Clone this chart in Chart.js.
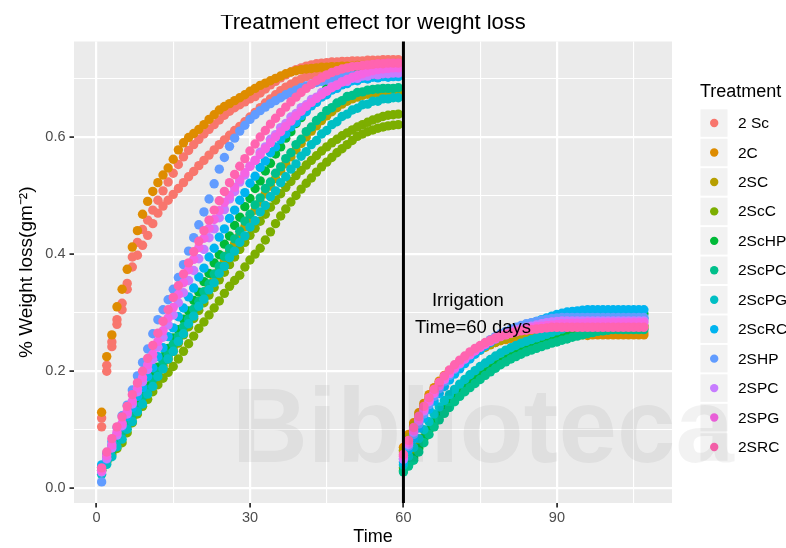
<!DOCTYPE html>
<html><head><meta charset="utf-8">
<script src="https://cdn.jsdelivr.net/npm/chart.js@4.4.1/dist/chart.umd.min.js"></script>
<style>html,body{margin:0;padding:0;background:#fff;}canvas{display:block;}</style>
</head><body>
<canvas id="c" width="786" height="548"></canvas>
<script>
// ---------- DATA ----------
const treatments = ['2 Sc','2C','2SC','2ScC','2ScHP','2ScPC','2ScPG','2ScRC','2SHP','2SPC','2SPG','2SRC'];
const colors = ['#F8766D','#DE8C00','#B79F00','#7CAE00','#00BA38','#00C08B','#00BFC4','#00B4F0','#619CFF','#C77CFF','#F564E3','#FF64B0'];

const preDays = [1,2,3,4,5,6,7,8,9,10,11,12,13,14,15,16,17,18,19,20,21,22,23,24,25,26,27,28,29,30,
  31,32,33,34,35,36,37,38,39,40,41,42,43,44,45,46,47,48,49,50,51,52,53,54,55,56,57,58,59];
const postDays = [60,61,62,63,64,65,66,67,68,69,70,71,72,73,74,75,76,77,78,79,80,81,82,83,84,85,86,87,88,89,
  90,91,92,93,94,95,96,97,98,99,100,101,102,103,104,105,106,107];

const xTicks = [0,15,30,45,60,75,90,105];
const xMajor = [0,30,60,90];
const yTicks = [0,0.1,0.2,0.3,0.4,0.5,0.6,0.7];
const yMajor = [0,0.2,0.4,0.6];

const irrigationDay = 60;
const noteLines = ['Irrigation','Time=60 days'];
const noteX = [72.6, 73.6];
const noteY = [0.311, 0.265];

// before irrigation (two replicate tracks visible for 2 Sc and 2ScC)
const pre2Sc_a = [0.105,0.200,0.242,0.288,0.316,0.350,0.395,0.420,0.442,0.458,
 0.475,0.492,0.508,0.523,0.538,0.553,0.566,0.577,0.587,0.596,
 0.605,0.613,0.621,0.629,0.637,0.644,0.650,0.655,0.660,0.665,
 0.669,0.675,0.682,0.689,0.695,0.701,0.706,0.711,0.715,0.718,
 0.721,0.723,0.725,0.726,0.727,0.728,0.728,0.729,0.729,0.730,
 0.730,0.730,0.731,0.731,0.731,0.732,0.732,0.732,0.732];
const pre2Sc_b = [0.120,0.210,0.250,0.280,0.305,0.340,0.378,0.398,0.415,0.432,
 0.452,0.470,0.482,0.492,0.502,0.512,0.522,0.532,0.541,0.551,
 0.560,0.569,0.578,0.587,0.595,0.603,0.611,0.618,0.626,0.634,
 0.642,0.650,0.658,0.665,0.672,0.679,0.685,0.690,0.695,0.699,
 0.703,0.706,0.709,0.712,0.714,0.716,0.718,0.720,0.721,0.722,
 0.723,0.724,0.725,0.725,0.726,0.726,0.726,0.727,0.727];
const pre2C = [0.130,0.225,0.262,0.310,0.340,0.374,0.412,0.440,0.468,0.490,
 0.507,0.522,0.535,0.547,0.562,0.578,0.590,0.599,0.606,0.613,
 0.621,0.630,0.638,0.646,0.652,0.657,0.662,0.667,0.672,0.678,
 0.683,0.688,0.692,0.696,0.700,0.704,0.708,0.711,0.713,0.715,
 0.716,0.717,0.718,0.719,0.719,0.720,0.720,0.721,0.721,0.721,
 0.722,0.722,0.722,0.722,0.723,0.723,0.723,0.723,0.723];
const pre2SC = [0.033,0.047,0.062,0.077,0.091,0.106,0.121,0.136,0.151,0.165,
 0.180,0.195,0.210,0.225,0.240,0.254,0.269,0.284,0.299,0.314,
 0.329,0.344,0.358,0.373,0.388,0.403,0.418,0.432,0.447,0.461,
 0.475,0.489,0.503,0.516,0.529,0.542,0.554,0.566,0.578,0.589,
 0.600,0.610,0.619,0.628,0.636,0.643,0.650,0.656,0.661,0.665,
 0.668,0.671,0.673,0.674,0.675,0.676,0.676,0.677,0.677];
const pre2ScC_a = [0.030,0.045,0.058,0.068,0.078,0.095,0.112,0.127,0.140,0.152,
 0.165,0.177,0.188,0.198,0.208,0.221,0.234,0.247,0.260,0.273,
 0.284,0.296,0.308,0.320,0.333,0.345,0.355,0.364,0.378,0.390,
 0.400,0.410,0.424,0.438,0.452,0.465,0.477,0.489,0.500,0.511,
 0.521,0.530,0.540,0.549,0.557,0.565,0.573,0.580,0.587,0.594,
 0.601,0.605,0.609,0.612,0.615,0.617,0.619,0.620,0.621];
const pre2ScC_b = [0.035,0.052,0.066,0.080,0.094,0.108,0.122,0.136,0.150,0.164,
 0.178,0.192,0.206,0.220,0.234,0.248,0.262,0.276,0.290,0.304,
 0.317,0.330,0.343,0.356,0.369,0.382,0.395,0.408,0.420,0.432,
 0.444,0.456,0.468,0.480,0.492,0.503,0.514,0.524,0.534,0.543,
 0.552,0.560,0.568,0.576,0.583,0.590,0.596,0.602,0.607,0.612,
 0.617,0.621,0.625,0.629,0.632,0.635,0.637,0.638,0.639];
const pre2ScHP = [0.031,0.047,0.065,0.079,0.097,0.111,0.129,0.143,0.161,0.175,
 0.193,0.207,0.225,0.239,0.257,0.271,0.289,0.303,0.321,0.335,
 0.353,0.367,0.385,0.399,0.417,0.431,0.449,0.463,0.481,0.495,
 0.512,0.525,0.542,0.555,0.571,0.583,0.598,0.609,0.623,0.633,
 0.646,0.655,0.666,0.673,0.683,0.688,0.696,0.699,0.705,0.706,
 0.710,0.710,0.713,0.713,0.714,0.714,0.715,0.715,0.715];
const pre2ScPC = [0.036,0.049,0.066,0.079,0.096,0.109,0.126,0.139,0.156,0.169,
 0.186,0.199,0.216,0.229,0.246,0.259,0.276,0.289,0.306,0.319,
 0.336,0.349,0.366,0.379,0.396,0.409,0.426,0.439,0.456,0.468,
 0.484,0.496,0.512,0.523,0.538,0.549,0.563,0.573,0.587,0.596,
 0.609,0.617,0.628,0.635,0.645,0.650,0.658,0.662,0.669,0.671,
 0.676,0.677,0.680,0.681,0.682,0.683,0.683,0.683,0.684];
const pre2ScPG = [0.024,0.041,0.054,0.071,0.084,0.101,0.114,0.131,0.144,0.161,
 0.174,0.191,0.204,0.221,0.234,0.251,0.264,0.281,0.294,0.311,
 0.323,0.339,0.351,0.367,0.379,0.394,0.405,0.420,0.431,0.446,
 0.457,0.472,0.483,0.498,0.508,0.522,0.532,0.545,0.554,0.567,
 0.575,0.587,0.594,0.605,0.611,0.621,0.626,0.635,0.639,0.646,
 0.649,0.655,0.656,0.661,0.661,0.665,0.665,0.667,0.667];
const pre2ScRC = [0.040,0.059,0.073,0.091,0.105,0.123,0.138,0.157,0.172,0.191,
 0.206,0.225,0.240,0.259,0.274,0.293,0.308,0.327,0.342,0.361,
 0.376,0.395,0.410,0.429,0.443,0.461,0.475,0.492,0.505,0.521,
 0.533,0.548,0.559,0.573,0.583,0.596,0.605,0.617,0.625,0.636,
 0.643,0.653,0.659,0.668,0.672,0.680,0.683,0.689,0.691,0.696,
 0.696,0.700,0.699,0.702,0.701,0.703,0.702,0.703,0.703];
const pre2SHP = [0.011,0.050,0.080,0.104,0.124,0.142,0.168,0.192,0.215,0.238,
 0.264,0.288,0.305,0.322,0.340,0.360,0.382,0.405,0.428,0.450,
 0.472,0.494,0.520,0.545,0.565,0.584,0.598,0.610,0.620,0.630,
 0.638,0.645,0.651,0.657,0.662,0.667,0.672,0.676,0.680,0.684,
 0.687,0.690,0.693,0.695,0.697,0.699,0.701,0.703,0.704,0.705,
 0.706,0.707,0.708,0.709,0.710,0.710,0.711,0.711,0.712];
const pre2SPC = [0.028,0.051,0.069,0.091,0.107,0.127,0.144,0.165,0.182,0.203,
 0.220,0.241,0.258,0.279,0.296,0.317,0.334,0.355,0.372,0.392,
 0.408,0.428,0.443,0.462,0.476,0.494,0.507,0.523,0.535,0.550,
 0.560,0.574,0.583,0.596,0.604,0.616,0.623,0.634,0.640,0.650,
 0.655,0.664,0.668,0.676,0.679,0.686,0.688,0.694,0.695,0.700,
 0.700,0.704,0.704,0.707,0.706,0.708,0.708,0.709,0.709];
const pre2SPG = [0.030,0.056,0.074,0.096,0.111,0.131,0.149,0.171,0.189,0.211,
 0.229,0.251,0.269,0.291,0.309,0.331,0.351,0.373,0.391,0.411,
 0.427,0.444,0.459,0.474,0.488,0.500,0.514,0.527,0.539,0.550,
 0.560,0.570,0.580,0.590,0.600,0.609,0.618,0.627,0.636,0.644,
 0.652,0.659,0.666,0.672,0.678,0.684,0.689,0.694,0.698,0.702,
 0.705,0.708,0.711,0.713,0.715,0.716,0.717,0.718,0.718];
const pre2SRC = [0.035,0.062,0.085,0.105,0.122,0.140,0.160,0.180,0.200,0.222,
 0.244,0.265,0.285,0.305,0.326,0.346,0.366,0.385,0.404,0.422,
 0.440,0.458,0.475,0.491,0.507,0.522,0.536,0.550,0.563,0.576,
 0.588,0.600,0.611,0.622,0.632,0.642,0.651,0.660,0.668,0.676,
 0.683,0.690,0.696,0.701,0.706,0.710,0.713,0.716,0.718,0.720,
 0.721,0.722,0.723,0.724,0.725,0.725,0.726,0.726,0.726];

// after irrigation
const post2Sc = [0.062,0.085,0.106,0.124,0.140,0.155,0.168,0.180,0.190,0.199,
 0.207,0.215,0.222,0.228,0.234,0.239,0.244,0.248,0.252,0.255,
 0.258,0.260,0.262,0.263,0.264,0.265,0.266,0.266,0.266,0.266,
 0.266,0.266,0.266,0.265,0.266,0.266,0.266,0.266,0.266,0.266,
 0.266,0.266,0.265,0.266,0.266,0.266,0.266,0.266];
const post2C = [0.070,0.092,0.112,0.129,0.145,0.160,0.172,0.183,0.193,0.201,
 0.209,0.216,0.222,0.228,0.233,0.238,0.242,0.246,0.249,0.252,
 0.254,0.256,0.258,0.259,0.260,0.261,0.262,0.262,0.262,0.262,
 0.262,0.262,0.262,0.262,0.262,0.262,0.261,0.262,0.262,0.262,
 0.262,0.262,0.262,0.262,0.262,0.262,0.262,0.262];
const post2SC = [0.065,0.087,0.107,0.124,0.140,0.154,0.167,0.178,0.188,0.197,
 0.205,0.212,0.219,0.225,0.231,0.236,0.241,0.245,0.249,0.253,
 0.256,0.259,0.262,0.264,0.266,0.268,0.270,0.271,0.272,0.273,
 0.274,0.274,0.274,0.274,0.274,0.274,0.274,0.274,0.274,0.274,
 0.274,0.274,0.274,0.274,0.274,0.274,0.274,0.274];
const post2ScC = [0.035,0.045,0.058,0.072,0.087,0.100,0.112,0.124,0.135,0.145,
 0.154,0.163,0.171,0.179,0.186,0.193,0.199,0.205,0.211,0.216,
 0.221,0.226,0.230,0.234,0.238,0.242,0.246,0.249,0.252,0.255,
 0.258,0.261,0.264,0.267,0.269,0.271,0.273,0.275,0.276,0.277,
 0.278,0.278,0.278,0.278,0.278,0.278,0.278,0.278];
const post2ScHP = [0.030,0.040,0.052,0.068,0.085,0.100,0.113,0.125,0.136,0.146,
 0.155,0.163,0.171,0.178,0.185,0.192,0.198,0.204,0.210,0.215,
 0.220,0.225,0.229,0.233,0.237,0.241,0.245,0.249,0.253,0.257,
 0.261,0.265,0.269,0.273,0.277,0.281,0.285,0.288,0.291,0.293,
 0.295,0.296,0.297,0.298,0.298,0.298,0.298,0.298];
const post2ScPC = [0.028,0.038,0.048,0.062,0.078,0.092,0.105,0.117,0.128,0.138,
 0.148,0.157,0.165,0.172,0.179,0.186,0.193,0.199,0.205,0.211,
 0.216,0.221,0.225,0.229,0.233,0.236,0.239,0.242,0.245,0.248,
 0.250,0.253,0.255,0.258,0.260,0.262,0.264,0.266,0.268,0.269,
 0.270,0.271,0.271,0.271,0.271,0.271,0.271,0.271];
const post2ScPG = [0.040,0.055,0.070,0.085,0.100,0.114,0.127,0.139,0.150,0.160,
 0.169,0.178,0.186,0.194,0.201,0.208,0.214,0.220,0.226,0.231,
 0.236,0.240,0.244,0.248,0.251,0.254,0.257,0.260,0.263,0.266,
 0.269,0.272,0.275,0.278,0.280,0.282,0.284,0.286,0.287,0.288,
 0.289,0.290,0.290,0.290,0.290,0.290,0.290,0.290];
const post2ScRC = [0.045,0.066,0.085,0.103,0.120,0.135,0.149,0.162,0.174,0.185,
 0.195,0.204,0.213,0.221,0.229,0.236,0.243,0.249,0.255,0.260,
 0.265,0.269,0.273,0.276,0.279,0.282,0.285,0.288,0.291,0.294,
 0.297,0.299,0.301,0.302,0.303,0.304,0.305,0.305,0.305,0.305,
 0.305,0.305,0.305,0.305,0.305,0.305,0.305,0.305];
const post2SHP = [0.050,0.072,0.092,0.110,0.127,0.143,0.157,0.170,0.182,0.193,
 0.203,0.212,0.220,0.228,0.235,0.242,0.248,0.254,0.259,0.264,
 0.268,0.272,0.275,0.278,0.281,0.283,0.285,0.287,0.289,0.290,
 0.291,0.292,0.292,0.292,0.292,0.292,0.292,0.292,0.292,0.292,
 0.292,0.292,0.292,0.292,0.292,0.292,0.292,0.292];
const post2SPC = [0.050,0.075,0.096,0.115,0.132,0.148,0.162,0.175,0.186,0.196,
 0.205,0.213,0.221,0.228,0.235,0.241,0.247,0.252,0.257,0.261,
 0.265,0.268,0.271,0.273,0.275,0.277,0.279,0.281,0.283,0.284,
 0.285,0.286,0.286,0.286,0.286,0.286,0.286,0.286,0.286,0.286,
 0.286,0.286,0.286,0.286,0.286,0.286,0.286,0.286];
const post2SPG = [0.055,0.078,0.099,0.118,0.135,0.150,0.164,0.176,0.187,0.197,
 0.206,0.214,0.222,0.229,0.235,0.241,0.246,0.251,0.255,0.259,
 0.262,0.265,0.268,0.270,0.272,0.274,0.276,0.277,0.278,0.279,
 0.280,0.281,0.281,0.282,0.282,0.282,0.283,0.283,0.283,0.283,
 0.283,0.283,0.283,0.283,0.283,0.283,0.283,0.283];
const post2SRC = [0.058,0.082,0.104,0.123,0.140,0.155,0.169,0.181,0.192,0.202,
 0.211,0.219,0.226,0.233,0.239,0.244,0.249,0.253,0.257,0.260,
 0.263,0.265,0.267,0.269,0.270,0.271,0.272,0.273,0.274,0.275,
 0.275,0.275,0.275,0.275,0.275,0.275,0.275,0.275,0.275,0.275,
 0.275,0.275,0.275,0.275,0.275,0.275,0.275,0.275];

const preTracks = [[pre2Sc_a,pre2Sc_b],[pre2C],[pre2SC],[pre2ScC_a,pre2ScC_b],[pre2ScHP],[pre2ScPC],
  [pre2ScPG],[pre2ScRC],[pre2SHP],[pre2SPC],[pre2SPG],[pre2SRC]];
const postTracks = [post2Sc,post2C,post2SC,post2ScC,post2ScHP,post2ScPC,post2ScPG,post2ScRC,post2SHP,post2SPC,post2SPG,post2SRC];

// ---------- CHART ----------
const FONT = '"Liberation Sans", Arial, Helvetica, sans-serif';
const near = (arr, v) => arr.some(a => Math.abs(a - v) < 1e-6);

const datasets = treatments.map((name, i) => {
  const pts = [];
  preTracks[i].forEach(tr => tr.forEach((y, k) => pts.push({x: preDays[k], y})));
  postTracks[i].forEach((y, k) => pts.push({x: postDays[k], y}));
  return {
    label: name, data: pts, showLine: false,
    pointRadius: 4.7, pointHoverRadius: 4.7, pointBorderWidth: 0,
    pointBackgroundColor: colors[i], pointBorderColor: colors[i],
    backgroundColor: colors[i], borderColor: colors[i],
    order: treatments.length - i
  };
});

const panelBg = {
  id: 'panelBg',
  beforeDraw(chart) {
    const {ctx, chartArea: a} = chart;
    ctx.save();
    ctx.fillStyle = '#EBEBEB';
    ctx.fillRect(a.left, a.top, a.right - a.left, a.bottom - a.top);
    ctx.restore();
  }
};

const extras = {
  id: 'extras',
  afterDatasetsDraw(chart) {
    const {ctx, chartArea: a, scales: {x, y}} = chart;
    ctx.save();
    const xp = x.getPixelForValue(irrigationDay);
    ctx.strokeStyle = '#000';
    ctx.lineWidth = 3;
    ctx.beginPath(); ctx.moveTo(xp, a.top); ctx.lineTo(xp, a.bottom); ctx.stroke();
    ctx.fillStyle = '#000';
    ctx.font = '18.5px ' + FONT;
    ctx.textAlign = 'center';
    ctx.textBaseline = 'alphabetic';
    noteLines.forEach((t, i) => ctx.fillText(t, x.getPixelForValue(noteX[i]), y.getPixelForValue(noteY[i])));
    ctx.restore();
  },
  afterDraw(chart) {
    const {ctx, chartArea: a} = chart;
    ctx.save();
    // title (top of the glyphs is cut off in the reference)
    ctx.beginPath(); ctx.rect(0, 15, chart.width, 40); ctx.clip();
    ctx.fillStyle = '#000';
    ctx.font = '22px ' + FONT;
    ctx.textAlign = 'center';
    ctx.textBaseline = 'alphabetic';
    ctx.fillText('Treatment effect for weight loss', (a.left + a.right) / 2, 28.5);
    ctx.restore();

    // legend
    ctx.save();
    ctx.fillStyle = '#000';
    ctx.font = '18px ' + FONT;
    ctx.textAlign = 'left';
    ctx.textBaseline = 'alphabetic';
    ctx.fillText('Treatment', 700, 96.5);
    const pitch = 29.45, top0 = 109.3;
    treatments.forEach((name, i) => {
      const y0 = top0 + i * pitch;
      ctx.fillStyle = '#F2F2F2';
      ctx.fillRect(700.5, y0, 27, 27.5);
      ctx.fillStyle = colors[i];
      ctx.beginPath(); ctx.arc(714.2, y0 + 13.75, 4.2, 0, Math.PI * 2); ctx.fill();
      ctx.fillStyle = '#000';
      ctx.font = '15.5px ' + FONT;
      ctx.textBaseline = 'middle';
      ctx.fillText(name, 738, y0 + 14.5);
    });
    ctx.restore();

    // faint watermark present on the reference image
    ctx.save();
    ctx.fillStyle = 'rgba(0,0,0,0.05)';
    ctx.font = 'bold 105px ' + FONT;
    ctx.textAlign = 'left';
    ctx.textBaseline = 'alphabetic';
    ctx.fillText('Biblioteca', 232, 462);
    ctx.restore();
  }
};

new Chart(document.getElementById('c'), {
  type: 'scatter',
  data: { datasets },
  options: {
    responsive: false, animation: false, events: [],
    layout: { padding: { left: 0, right: 114, top: 41.5, bottom: 0 } },
    plugins: { legend: { display: false }, tooltip: { enabled: false }, title: { display: false } },
    scales: {
      x: {
        type: 'linear', min: -4.4, max: 112.5,
        afterBuildTicks: s => { s.ticks = xTicks.map(v => ({ value: v })); },
        afterFit: s => { s.height = 45; },
        border: { display: false },
        grid: {
          color: '#FFFFFF',
          lineWidth: c => near(xMajor, c.tick.value) ? 2.2 : 1.1,
          tickColor: c => near(xMajor, c.tick.value) ? '#333333' : 'rgba(0,0,0,0)',
          tickWidth: 1.8, tickLength: 4.5, drawTicks: true
        },
        ticks: {
          autoSkip: false, maxRotation: 0, padding: 2,
          color: '#4D4D4D', font: { family: FONT, size: 14.5 },
          callback: v => near(xMajor, v) ? String(v) : ''
        },
        title: { display: true, text: 'Time', color: '#000', font: { family: FONT, size: 18 }, padding: { top: 0, bottom: 0.5 } }
      },
      y: {
        type: 'linear', min: -0.025, max: 0.763,
        afterBuildTicks: s => { s.ticks = yTicks.map(v => ({ value: v })); },
        afterFit: s => { s.width = 74; },
        border: { display: false },
        grid: {
          color: '#FFFFFF',
          lineWidth: c => near(yMajor, c.tick.value) ? 2.2 : 1.1,
          tickColor: c => near(yMajor, c.tick.value) ? '#333333' : 'rgba(0,0,0,0)',
          tickWidth: 1.8, tickLength: 4.5, drawTicks: true
        },
        ticks: {
          autoSkip: false, padding: 4,
          color: '#4D4D4D', font: { family: FONT, size: 14.5 },
          callback: v => near(yMajor, v) ? v.toFixed(1) : ''
        },
        title: { display: true, text: '% Weight loss(gm\u207B\u00B2)', color: '#000', font: { family: FONT, size: 19 }, padding: { top: 15.5, bottom: 0 } }
      }
    }
  },
  plugins: [panelBg, extras]
});
</script>
</body></html>
